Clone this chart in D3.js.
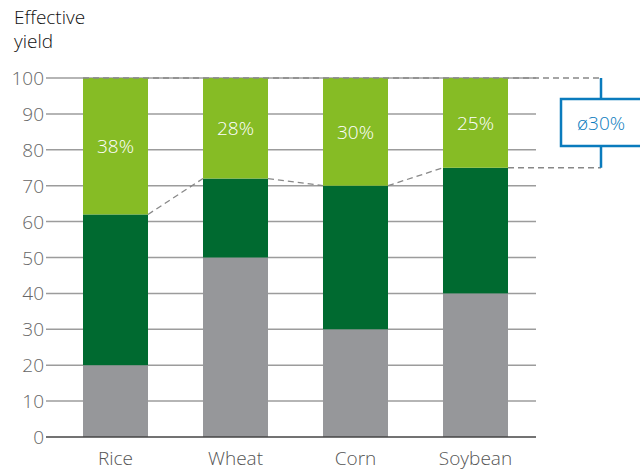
<!DOCTYPE html>
<html>
<head>
<meta charset="utf-8">
<script src="https://cdn.jsdelivr.net/npm/d3@7"></script>
<style>
  body { margin: 0; background: #fff; }
  text { font-family: "Open Sans", sans-serif; }
</style>
</head>
<body>
<svg id="chart" width="640" height="471"></svg>
<script>
// chart data
const crops = ["Rice", "Wheat", "Corn", "Soybean"];
const baseYield = [20, 50, 30, 40];
const midYield = [42, 22, 40, 35];
const gapYield = [38, 28, 30, 25];
const gapLabels = ["38%", "28%", "30%", "25%"];
const yTicks = [0, 10, 20, 30, 40, 50, 60, 70, 80, 90, 100];
const avgLabel = "ø30%";

const svg = d3.select("#chart");
const gridLeft = 46, gridRight = 536, plotTop = 78, plotBottom = 437;
const fs = 19;

const x = d3.scaleBand().domain(crops).range([83, 508]).paddingInner(0.4583).paddingOuter(0);
const y = d3.scaleLinear().domain([0, 100]).range([plotBottom, plotTop]);

// rows for stacking
const rows = crops.map((c, i) => ({ crop: c, base: baseYield[i], mid: midYield[i], gap: gapYield[i] }));
const stack = d3.stack().keys(["base", "mid", "gap"]);
const series = stack(rows);
const colors = { base: "#96979a", mid: "#006a30", gap: "#86bc25" };

// gridlines
svg.append("g").selectAll("line")
  .data(yTicks.filter(t => t > 0))
  .enter().append("line")
  .attr("x1", gridLeft).attr("x2", gridRight)
  .attr("y1", d => y(d)).attr("y2", d => y(d))
  .attr("stroke", "#9c9c9c").attr("stroke-width", 1.5);

// y tick labels
svg.append("g").selectAll("text")
  .data(yTicks)
  .enter().append("text")
  .attr("x", 44).attr("y", d => y(d) + 7)
  .attr("text-anchor", "end")
  .attr("font-size", fs)
  .attr("font-weight", 300)
  .attr("fill", "#666")
  .text(d => d);

// bars
svg.append("g").selectAll("g")
  .data(series)
  .enter().append("g")
  .attr("fill", d => colors[d.key])
  .selectAll("rect")
  .data(d => d)
  .enter().append("rect")
  .attr("x", d => x(d.data.crop))
  .attr("width", x.bandwidth())
  .attr("y", d => y(d[1]))
  .attr("height", d => y(d[0]) - y(d[1]));

// baseline
svg.append("line")
  .attr("x1", gridLeft).attr("x2", gridRight)
  .attr("y1", y(0)).attr("y2", y(0))
  .attr("stroke", "#444").attr("stroke-width", 1.5);

// percentage labels in the top segments
svg.append("g").selectAll("text")
  .data(series[2])
  .enter().append("text")
  .attr("x", d => x(d.data.crop) + x.bandwidth() / 2)
  .attr("y", d => y((d[0] + d[1]) / 2) + 7)
  .attr("text-anchor", "middle")
  .attr("font-size", fs)
  .attr("font-weight", 300)
  .attr("fill", "#fff")
  .text((d, i) => gapLabels[i]);

// x labels
svg.append("g").selectAll("text")
  .data(crops)
  .enter().append("text")
  .attr("x", d => x(d) + x.bandwidth() / 2)
  .attr("y", 465)
  .attr("text-anchor", "middle")
  .attr("font-size", fs)
  .attr("font-weight", 300)
  .attr("fill", "#555")
  .text(d => d);

// title
const title = svg.append("text").attr("font-size", fs).attr("font-weight", 300).attr("fill", "#111");
title.append("tspan").attr("x", 14).attr("y", 24).text("Effective");
title.append("tspan").attr("x", 14).attr("y", 48).text("yield");

// dashed connectors
const bx = 601;
const dash = svg.append("g").attr("stroke", "#888").attr("stroke-width", 1.3)
  .attr("stroke-dasharray", "6,4").attr("fill", "none");
dash.append("line")
  .attr("x1", x(crops[0])).attr("x2", bx)
  .attr("y1", y(100)).attr("y2", y(100));
const tops = series[1].map(d => ({ crop: d.data.crop, v: d[1] }));
for (let i = 0; i < tops.length - 1; i++) {
  dash.append("line")
    .attr("x1", x(tops[i].crop) + x.bandwidth()).attr("y1", y(tops[i].v))
    .attr("x2", x(tops[i + 1].crop)).attr("y2", y(tops[i + 1].v));
}
const last = tops[tops.length - 1];
dash.append("line")
  .attr("x1", x(last.crop) + x.bandwidth()).attr("x2", bx)
  .attr("y1", y(last.v)).attr("y2", y(last.v));

// average bracket
const blue = "#0a7bbd";
const boxTop = 99, boxBot = 146;
svg.append("line").attr("x1", bx).attr("x2", bx).attr("y1", y(100)).attr("y2", boxTop)
  .attr("stroke", blue).attr("stroke-width", 2.5);
svg.append("line").attr("x1", bx).attr("x2", bx).attr("y1", boxBot).attr("y2", y(last.v))
  .attr("stroke", blue).attr("stroke-width", 2.5);
svg.append("rect").attr("x", 561).attr("y", boxTop).attr("width", 90).attr("height", boxBot - boxTop)
  .attr("fill", "#fff").attr("stroke", blue).attr("stroke-width", 2.5);
svg.append("text").attr("x", bx).attr("y", (boxTop + boxBot) / 2 + 7)
  .attr("text-anchor", "middle").attr("font-size", fs).attr("font-weight", 300).attr("fill", blue)
  .text(avgLabel);
</script>
</body>
</html>
